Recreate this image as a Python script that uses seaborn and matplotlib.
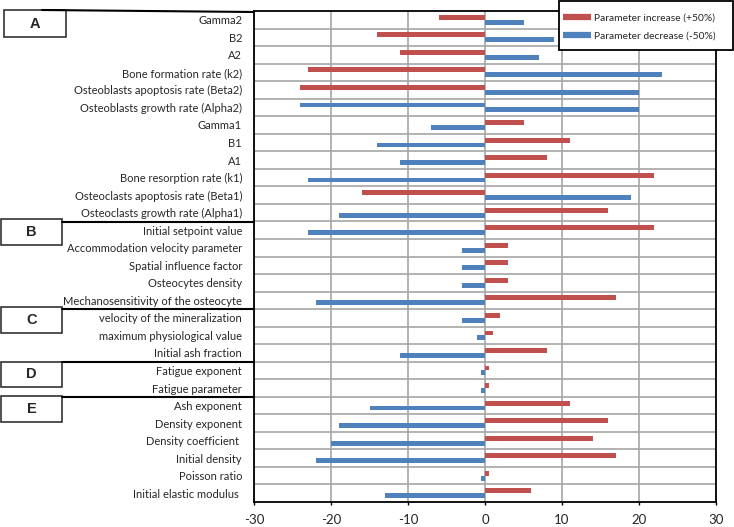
import matplotlib
matplotlib.use("Agg")
import matplotlib.pyplot as plt
import seaborn as sns
import pandas as pd
from matplotlib.lines import Line2D
from matplotlib.patches import Rectangle

parameters = [
    "Gamma2", "B2", "A2", "Bone formation rate (k2)",
    "Osteoblasts apoptosis rate (Beta2)", "Osteoblasts growth rate (Alpha2)",
    "Gamma1", "B1", "A1", "Bone resorption rate (k1)",
    "Osteoclasts apoptosis rate (Beta1)", "Osteoclasts growth rate (Alpha1)",
    "Initial setpoint value", "Accommodation velocity parameter",
    "Spatial influence factor", "Osteocytes density",
    "Mechanosensitivity of the osteocyte",
    "velocity of the mineralization", "maximum physiological value",
    "Initial ash fraction",
    "Fatigue exponent", "Fatigue parameter",
    "Ash exponent", "Density exponent", "Density coefficient ",
    "Initial density", "Poisson ratio", "Initial elastic modulus ",
]
increase = [-6, -14, -11, -23, -24, -24, 5, 11, 8, 22, -16, 16,
            22, 3, 3, 3, 17, 2, 1, 8, 0.5, 0.5, 11, 16, 14, 17, 0.5, 6]
decrease = [5, 9, 7, 23, 20, 20, -7, -14, -11, -23, 19, -19,
            -23, -3, -3, -3, -22, -3, -1, -11, -0.5, -0.5, -15, -19, -20, -22, -0.5, -13]
series_names = ["Parameter increase (+50%)", "Parameter decrease (-50%)"]
section_labels = ["A", "B", "C", "D", "E"]
x_ticks = [-30, -20, -10, 0, 10, 20, 30]

df = pd.DataFrame({
    "parameter": parameters * 2,
    "series": [series_names[0]] * len(parameters) + [series_names[1]] * len(parameters),
    "value": increase + decrease,
})

RED = "#C0504D"
BLUE = "#4F81BD"

sns.set_style("white")
plt.rcParams["font.family"] = ["Lato", "DejaVu Sans"]

W, H = 734, 527
fig = plt.figure(figsize=(W / 100, H / 100), dpi=100)
ax_l, ax_r, ax_t, ax_b = 254, 716, 11, 502
ax = fig.add_axes([ax_l / W, 1 - ax_b / H, (ax_r - ax_l) / W, (ax_b - ax_t) / H])

sns.barplot(data=df, y="parameter", x="value", hue="series", orient="h",
            palette=[RED, BLUE], width=0.56, ax=ax, legend=False,
            saturation=1, order=parameters, hue_order=series_names,
            linewidth=0)

# the Alpha2 "increase" bar is drawn in blue in the reference
ax.containers[0][5].set_facecolor(BLUE)

n = len(parameters)
ax.set_xlim(-30, 30)
ax.set_ylim(n - 0.5, -0.5)
ax.set_xticks(x_ticks)
ax.set_xticklabels([str(t) for t in x_ticks], fontsize=9.5)
ax.set_yticks(range(n))
ax.set_yticklabels(parameters, fontsize=8.0)
ax.set_yticks([i + 0.5 for i in range(n - 1)], minor=True)
ax.set_xlabel("")
ax.set_ylabel("")
ax.tick_params(axis="y", which="both", length=0, pad=8.6)
ax.tick_params(axis="x", which="major", length=2.5, width=1, color="black",
               direction="out", pad=6, bottom=True)
ax.grid(axis="x", which="major", color="#A6A6A6", lw=1.2)
ax.grid(axis="y", which="minor", color="#A6A6A6", lw=1.2)
ax.set_axisbelow(True)
for s in ["left", "right", "top", "bottom"]:
    ax.spines[s].set_visible(True)
    ax.spines[s].set_color("black")
    ax.spines[s].set_linewidth(1.3)


def fx(x):
    return x / W


def fy(y):
    return 1 - y / H


boxes = [(4, 10, 66, 37), (1, 219, 62, 245), (1, 307, 62, 333),
         (1, 362, 62, 387), (1, 396, 62, 422)]
lines = [(42, 10, 254, 12), (62, 221.5, 254, 221.5), (62, 309, 254, 309),
         (62, 362, 254, 362), (62, 397, 254, 397)]
for lab, (x0, y0, x1, y1) in zip(section_labels, boxes):
    fig.add_artist(Rectangle((fx(x0), fy(y1)), fx(x1 - x0), (y1 - y0) / H,
                             transform=fig.transFigure, facecolor="white",
                             edgecolor="#333333", lw=1.2))
    fig.text(fx((x0 + x1) / 2), fy((y0 + y1) / 2), lab, ha="center", va="center",
             fontsize=10.5, fontweight="bold", family=["Liberation Sans"])
for (x0, y0, x1, y1) in lines:
    fig.add_artist(Line2D([fx(x0), fx(x1)], [fy(y0), fy(y1)],
                          transform=fig.transFigure, color="black", lw=1.5))

# legend frame drawn separately so its padding matches the reference
fig.add_artist(Rectangle((fx(559), fy(50)), fx(733 - 559), 49 / H,
                         transform=fig.transFigure, facecolor="white",
                         edgecolor="black", lw=1.3, zorder=5))
handles = [Line2D([], [], color=RED, lw=4.5, solid_capstyle="butt"),
           Line2D([], [], color=BLUE, lw=4.5, solid_capstyle="butt")]
leg = fig.legend(handles, series_names, loc="upper left",
                 bbox_to_anchor=(fx(561), fy(11)), fontsize=7.4, frameon=False,
                 handlelength=2.7, handletextpad=0.3, borderpad=0.2,
                 labelspacing=0.85, borderaxespad=0)
leg.set_zorder(6)

fig.savefig("out.png", dpi=100)
